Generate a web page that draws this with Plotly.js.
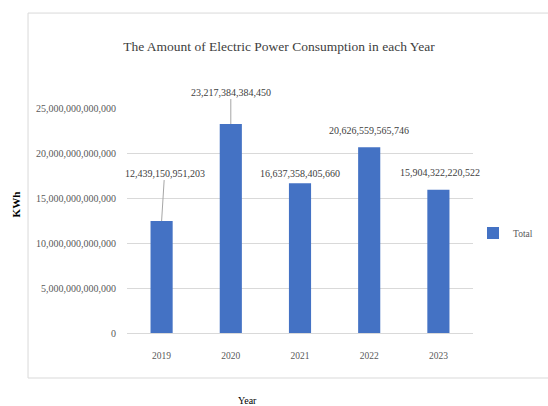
<!DOCTYPE html>
<html>
<head>
<meta charset="utf-8">
<script src="https://cdn.plot.ly/plotly-3.0.1.min.js"></script>
<style>html,body{margin:0;padding:0;background:#fff;}#chart{width:548px;height:406px;}</style>
</head>
<body>
<div id="chart"></div>
<script>
const years = ["2019", "2020", "2021", "2022", "2023"];
const totals = [12439150951203, 23217384384450, 16637358405660, 20626559565746, 15904322220522];
const valueLabels = ["12,439,150,951,203", "23,217,384,384,450", "16,637,358,405,660", "20,626,559,565,746", "15,904,322,220,522"];
const yTicks = [0, 5e12, 10e12, 15e12, 20e12, 25e12];
const seriesName = "Total";

const labelOffsets = [[3, -48], [0, -32], [0, -10], [0, -17], [2, -17]];
const leaderColors = ["#a6a6a6", "#a6a6a6", "rgba(0,0,0,0)", "rgba(0,0,0,0)", "rgba(0,0,0,0)"];

const serif = "Liberation Serif, Times New Roman, serif";

// category axis: annotation x given as category index
const annotations = years.map((yr, i) => ({
  x: i, y: totals[i], xref: "x", yref: "y",
  text: valueLabels[i],
  showarrow: true, arrowhead: 0, arrowwidth: 1, arrowcolor: leaderColors[i],
  ax: labelOffsets[i][0], ay: labelOffsets[i][1],
  font: {family: serif, size: 10, color: "#404040"}
}));

annotations.push({
  text: "KWh", xref: "paper", yref: "paper", x: -0.345, y: 0.57,
  textangle: -90, showarrow: false,
  font: {family: serif, size: 11, color: "#000", weight: "bold"}
});
annotations.push({
  text: "Year", xref: "paper", yref: "paper", x: 0.347, y: -0.3,
  showarrow: false, yanchor: "middle",
  font: {family: serif, size: 10, color: "#000"}
});

const trace = {
  type: "bar", x: years, y: totals, name: seriesName,
  marker: {color: "#4472C4"}, showlegend: true
};

const layout = {
  width: 548, height: 406,
  margin: {l: 127, r: 75, t: 108, b: 73, autoexpand: false},
  paper_bgcolor: "#fff", plot_bgcolor: "#fff",
  bargap: 0.68,
  title: {
    text: "The Amount of Electric Power Consumption in each Year",
    x: 0.509, xref: "container", y: 0.887, yref: "container",
    xanchor: "center", yanchor: "middle",
    font: {family: serif, size: 13.5, color: "#404040"}
  },
  xaxis: {
    type: "category", range: [-0.5, 4.5], showgrid: false, zeroline: false,
    showline: false, ticks: "",
    tickfont: {family: serif, size: 9.5, color: "#595959"},
    ticklabelstandoff: 15
  },
  yaxis: {
    range: [0, 25e12], tickvals: yTicks, tickformat: ",.0f",
    showgrid: true, gridcolor: "#d9d9d9", gridwidth: 1,
    zeroline: true, zerolinecolor: "#d9d9d9",
    showline: false, ticks: "",
    tickfont: {family: serif, size: 10, color: "#595959"},
    ticklabelstandoff: 10
  },
  legend: {
    x: 1.0, y: 0.444, xanchor: "left", yanchor: "middle",
    font: {family: serif, size: 9.5, color: "#595959"},
    bgcolor: "rgba(0,0,0,0)", itemwidth: 30
  },
  shapes: [{
    type: "rect", xref: "paper", yref: "paper",
    x0: -0.286, x1: 1.35, y0: -0.2, y1: 1.422,
    line: {color: "#d9d9d9", width: 1}, fillcolor: "rgba(0,0,0,0)", layer: "below"
  }],
  annotations: annotations
};

Plotly.newPlot("chart", [trace], layout, {displayModeBar: false, staticPlot: true});
</script>
</body>
</html>
